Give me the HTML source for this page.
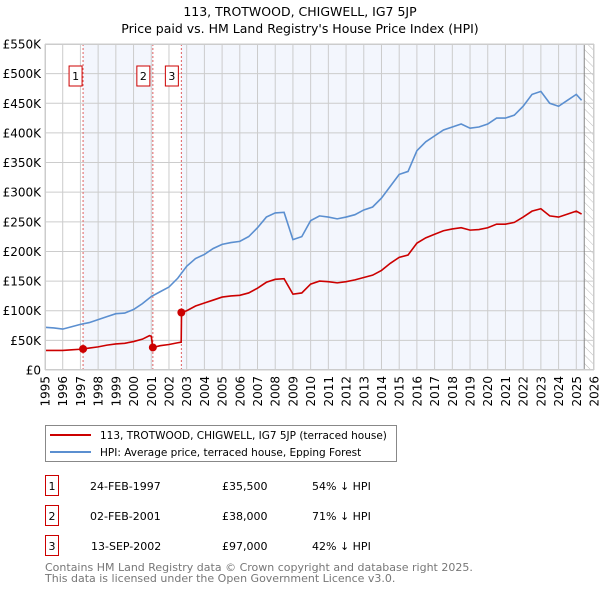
<!DOCTYPE html>
<html><head><meta charset="utf-8"><style>
body{margin:0;background:#fff;font-family:"DejaVu Sans","Liberation Sans",sans-serif;}
svg text{font-family:"DejaVu Sans","Liberation Sans",sans-serif;}
</style></head><body>
<svg id="c" width="600" height="590" xmlns="http://www.w3.org/2000/svg">
<defs><pattern id="hatch" width="6" height="6" patternUnits="userSpaceOnUse" patternTransform="rotate(-45)"><line x1="0" y1="0" x2="0" y2="6" stroke="#bbb" stroke-width="1"/></pattern></defs>
<text x="300" y="16" text-anchor="middle" font-size="12.5">113, TROTWOOD, CHIGWELL, IG7 5JP</text>
<text x="300" y="33" text-anchor="middle" font-size="12.5">Price paid vs. HM Land Registry's House Price Index (HPI)</text>
<g id="plot"></g>
<g>
<rect x="45.5" y="425.5" width="351" height="36" fill="#fff" stroke="#888"/>
<line x1="50" y1="435" x2="91" y2="435" stroke="#cc0000" stroke-width="2"/>
<text x="100" y="439" font-size="10.5">113, TROTWOOD, CHIGWELL, IG7 5JP (terraced house)</text>
<line x1="50" y1="452" x2="91" y2="452" stroke="#5b8fd0" stroke-width="2"/>
<text x="100" y="456" font-size="10.5">HPI: Average price, terraced house, Epping Forest</text>
</g>
<g font-size="11">
<rect x="45.5" y="475.5" width="13" height="20" fill="#fff" stroke="#cc0000"/><text x="52" y="490" text-anchor="middle">1</text>
<text x="90" y="490">24-FEB-1997</text><text x="222" y="490">£35,500</text><text x="312" y="490">54% ↓ HPI</text>
<rect x="45.5" y="505.5" width="13" height="20" fill="#fff" stroke="#cc0000"/><text x="52" y="520" text-anchor="middle">2</text>
<text x="90" y="520">02-FEB-2001</text><text x="222" y="520">£38,000</text><text x="312" y="520">71% ↓ HPI</text>
<rect x="45.5" y="535.5" width="13" height="20" fill="#fff" stroke="#cc0000"/><text x="52" y="550" text-anchor="middle">3</text>
<text x="91" y="550">13-SEP-2002</text><text x="222" y="550">£97,000</text><text x="312" y="550">42% ↓ HPI</text>
</g>
<text x="45" y="571" font-size="11" fill="#777">Contains HM Land Registry data © Crown copyright and database right 2025.</text>
<text x="45" y="582" font-size="11" fill="#777">This data is licensed under the Open Government Licence v3.0.</text>
</svg>
<script>
const hpiYears=[1995,1995.5,1996,1996.5,1997,1997.5,1998,1998.5,1999,1999.5,2000,2000.5,2001,2001.5,2002,2002.5,2003,2003.5,2004,2004.5,2005,2005.5,2006,2006.5,2007,2007.5,2008,2008.5,2009,2009.5,2010,2010.5,2011,2011.5,2012,2012.5,2013,2013.5,2014,2014.5,2015,2015.5,2016,2016.5,2017,2017.5,2018,2018.5,2019,2019.5,2020,2020.5,2021,2021.5,2022,2022.5,2023,2023.5,2024,2024.5,2025,2025.3];
const hpiValues=[72,71,69,73,77,80,85,90,95,96,102,112,124,132,140,155,175,188,195,205,212,215,217,225,240,258,265,266,220,225,252,260,258,255,258,262,270,275,290,310,330,335,370,385,395,405,410,415,408,410,415,425,425,430,445,465,470,450,445,455,465,455];
const priceYears=[1995,1995.5,1996,1996.5,1997,1997.15,1997.5,1998,1998.5,1999,1999.5,2000,2000.5,2000.9,2001.0,2001.09,2001.5,2002,2002.5,2002.69,2002.71,2003,2003.5,2004,2004.5,2005,2005.5,2006,2006.5,2007,2007.5,2008,2008.5,2009,2009.5,2010,2010.5,2011,2011.5,2012,2012.5,2013,2013.5,2014,2014.5,2015,2015.5,2016,2016.5,2017,2017.5,2018,2018.5,2019,2019.5,2020,2020.5,2021,2021.5,2022,2022.5,2023,2023.5,2024,2024.5,2025,2025.3];
const priceValues=[33,33,33,34,35,35.5,37,39,42,44,45,48,52,58,57,38,41,43,46,47,97,100,108,113,118,123,125,126,130,138,148,153,154,128,130,145,150,149,147,149,152,156,160,168,180,190,194,214,223,229,235,238,240,236,237,240,246,246,249,258,268,272,260,258,263,268,263];
const saleYears=[1997.15,2001.09,2002.7];
const salePrices=[35.5,38,97];
const saleLabels=["1","2","3"];
const yTicks=[0,50,100,150,200,250,300,350,400,450,500,550];
const xTicks=[1995,1996,1997,1998,1999,2000,2001,2002,2003,2004,2005,2006,2007,2008,2009,2010,2011,2012,2013,2014,2015,2016,2017,2018,2019,2020,2021,2022,2023,2024,2025,2026];

const L=45,R=594,T=44,B=370,X0=1995,X1=2026,YMAX=550,DATA_END=2025.45;
const xs=v=>L+(v-X0)/(X1-X0)*(R-L);
const ys=v=>B-v/YMAX*(B-T);
const NS="http://www.w3.org/2000/svg";
const g=document.getElementById('plot');
function mk(tag,attrs,parent){const e=document.createElementNS(NS,tag);for(const k in attrs)e.setAttribute(k,attrs[k]);(parent||g).appendChild(e);return e;}
let e;
e=mk('rect',{x:L,y:T,width:R-L,height:B-T,fill:'#fff'});


e=mk('rect',{x:xs(saleYears[0]),y:T,width:xs(saleYears[1])-xs(saleYears[0]),height:B-T,fill:'#f3f6fd'});


e=mk('rect',{x:xs(saleYears[2]),y:T,width:xs(DATA_END)-xs(saleYears[2]),height:B-T,fill:'#f3f6fd'});


e=mk('rect',{x:xs(DATA_END),y:T,width:R-xs(DATA_END),height:B-T,fill:'url(#hatch)'});


yTicks.forEach(t=>{
  e=mk('line',{x1:L,x2:R,y1:ys(t),y2:ys(t),stroke:'#ccc','stroke-width':1});
  
  
  e=mk('text',{x:L-4,y:ys(t)+4.5,'text-anchor':'end','font-size':12});
  e.textContent=t===0?'£0':'£'+t+'K';
  
  
});
xTicks.forEach(t=>{
  e=mk('line',{x1:xs(t),x2:xs(t),y1:T,y2:B,stroke:'#ccc','stroke-width':1});
  
  
  e=mk('text',{x:0,y:0,'text-anchor':'end','font-size':12,transform:`translate(${xs(t)+4.5},${B+6}) rotate(-90)`});
  e.textContent=t;
  
  
});
e=mk('line',{x1:xs(DATA_END),x2:xs(DATA_END),y1:T,y2:B,stroke:'#888','stroke-width':1});


saleYears.forEach((s,i)=>{
  e=mk('line',{x1:xs(s),x2:xs(s),y1:T,y2:B,stroke:'#e06060','stroke-width':1,'stroke-dasharray':'2,2'});
  
  
});
e=mk('polyline',{points:hpiYears.map((y,i)=>xs(y)+','+ys(hpiValues[i])).join(' '),fill:'none',stroke:'#5b8fd0','stroke-width':1.6});


e=mk('polyline',{points:priceYears.map((y,i)=>xs(y)+','+ys(priceValues[i])).join(' '),fill:'none',stroke:'#cc0000','stroke-width':1.6});


saleYears.forEach((s,i)=>{
  e=mk('circle',{cx:xs(s),cy:ys(salePrices[i]),r:4,fill:'#cc0000'});
  
  
  const bx=xs(s)-(i===0?1:3)-13;
  e=mk('rect',{x:bx,y:66,width:13,height:20,fill:'#fff',stroke:'#cc0000'});
  
  
  e=mk('text',{x:bx+6.5,y:80,'text-anchor':'middle','font-size':11});
  e.textContent=saleLabels[i];
  
  
});
e=mk('rect',{x:L+0.5,y:T+0.5,width:R-L-1,height:B-T-1,fill:'none',stroke:'#ccc'});


</script>
</body></html>
